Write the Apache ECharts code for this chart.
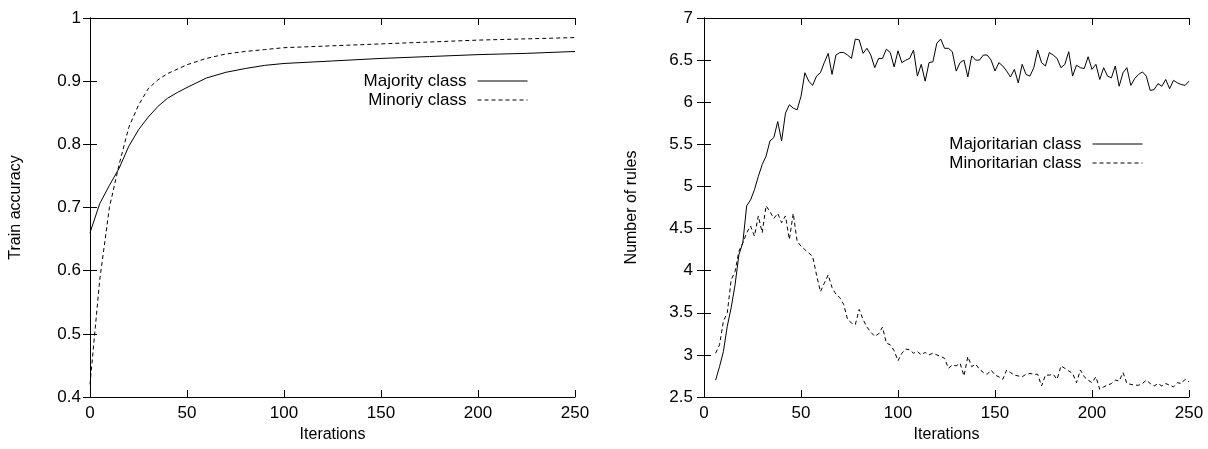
<!DOCTYPE html>
<html><head><meta charset="utf-8">
<script src="https://cdn.jsdelivr.net/npm/echarts@6/dist/echarts.min.js"></script>
<style>html,body{margin:0;padding:0;background:#fff}#c{width:1208px;height:449px}</style>
</head><body><div id="c"></div>
<script>
// ---- Left chart: train accuracy ----
const accIterations = [0,5,10,15,20,25,30,35,40,45,50,60,70,80,90,100,125,150,175,200,225,250];
const accMajority = [0.66,0.706,0.735,0.762,0.797,0.823,0.843,0.860,0.873,0.882,0.890,0.905,0.914,0.920,0.925,0.928,0.932,0.936,0.939,0.942,0.944,0.947];
const accMinority = [0.42,0.585,0.700,0.768,0.827,0.862,0.888,0.902,0.912,0.919,0.926,0.936,0.943,0.947,0.950,0.953,0.956,0.959,0.962,0.965,0.967,0.969];

// ---- Right chart: number of rules ----
const rulesIterations = [6,8,10,12,14,16,18,20,22,24,26,28,30,32,34,36,38,40,42,44,46,48,
 50,52,54,56,58,60,62,64,66,68,70,72,74,76,78,80,82,84,86,88,90,92,94,96,98,
 100,102,104,106,108,110,112,114,116,118,120,122,124,126,128,130,132,134,136,138,140,142,144,146,148,
 150,152,154,156,158,160,162,164,166,168,170,172,174,176,178,180,182,184,186,188,190,192,194,196,198,
 200,202,204,206,208,210,212,214,216,218,220,222,224,226,228,230,232,234,236,238,240,242,244,246,248,250];
const rulesMajoritarian = [2.70,2.86,3.04,3.34,3.56,3.83,4.19,4.33,4.77,4.84,4.96,5.12,5.26,5.36,5.54,5.58,5.77,5.54,5.87,5.97,5.93,5.91,
 6.07,6.35,6.25,6.20,6.31,6.35,6.47,6.58,6.33,6.56,6.59,6.59,6.56,6.52,6.75,6.74,6.58,6.64,6.56,6.41,6.52,6.52,6.63,6.59,6.42,
 6.61,6.47,6.50,6.52,6.62,6.31,6.45,6.25,6.47,6.48,6.70,6.75,6.64,6.64,6.60,6.37,6.47,6.50,6.30,6.55,6.50,6.50,6.56,6.56,6.50,
 6.37,6.47,6.43,6.37,6.30,6.39,6.23,6.45,6.33,6.31,6.41,6.62,6.47,6.43,6.59,6.56,6.52,6.41,6.45,6.60,6.31,6.44,6.41,6.40,6.54,
 6.39,6.45,6.27,6.41,6.31,6.29,6.43,6.19,6.35,6.41,6.20,6.28,6.33,6.36,6.31,6.14,6.15,6.22,6.19,6.27,6.16,6.26,6.23,6.21,6.20,6.25];
const rulesMinoritarian = [3.02,3.12,3.40,3.50,3.89,3.99,4.23,4.33,4.45,4.53,4.41,4.65,4.45,4.77,4.70,4.62,4.68,4.57,4.65,4.37,4.68,4.35,
 4.29,4.25,4.21,4.17,3.95,3.75,3.85,3.95,3.80,3.72,3.68,3.60,3.42,3.38,3.36,3.54,3.42,3.33,3.27,3.22,3.25,3.33,3.14,3.12,3.05,
 2.93,3.02,3.07,3.06,3.02,3.04,3.00,3.03,3.00,3.02,3.00,2.98,2.96,2.84,2.88,2.87,2.90,2.75,2.98,2.86,2.89,2.83,2.79,2.77,2.82,
 2.76,2.74,2.71,2.82,2.79,2.76,2.75,2.74,2.77,2.78,2.77,2.77,2.63,2.76,2.76,2.77,2.71,2.87,2.84,2.81,2.78,2.67,2.82,2.74,2.70,
 2.67,2.74,2.59,2.62,2.64,2.66,2.70,2.69,2.79,2.66,2.65,2.64,2.64,2.66,2.70,2.66,2.63,2.66,2.63,2.66,2.64,2.62,2.67,2.66,2.71,2.68];

const zip = (xs, ys) => xs.map((x, i) => [x, ys[i]]);
const FONT = '"Liberation Sans", Arial, Helvetica, sans-serif';
const BLACK = '#000';
const LABEL = { color: BLACK, fontSize: 17, fontFamily: FONT };

function axisBase(extra) {
  return Object.assign({
    type: 'value',
    axisLine: { show: true, lineStyle: { color: BLACK, width: 1 } },
    axisTick: { show: true, inside: true, length: 7, lineStyle: { color: BLACK, width: 1 } },
    splitLine: { show: false },
    axisLabel: LABEL,
    nameTextStyle: { color: BLACK, fontSize: 16, fontFamily: FONT }
  }, extra);
}
function mirror(extra) {
  return axisBase(Object.assign({ axisLabel: { show: false } }, extra));
}
const legendCommon = {
  orient: 'vertical', align: 'right', itemWidth: 50, itemHeight: 10, itemGap: 1, padding: 0,
  selectedMode: false,
  itemStyle: { opacity: 0, borderWidth: 0 },
  lineStyle: { width: 1 },
  textStyle: { color: BLACK, fontSize: 17, fontFamily: FONT, lineHeight: 18, padding: [0, 6, 0, 0] }
};

const chart = echarts.init(document.getElementById('c'), null, { renderer: 'canvas' });
chart.setOption({
  animation: false,
  backgroundColor: '#fff',
  grid: [
    { left: 90, top: 18, width: 485, height: 379 },
    { left: 704, top: 18, width: 485, height: 379 }
  ],
  xAxis: [
    axisBase({ gridIndex: 0, min: 0, max: 250, interval: 50, position: 'bottom',
      name: 'Iterations', nameLocation: 'middle', nameGap: 25, axisLabel: Object.assign({ margin: 8 }, LABEL) }),
    mirror({ gridIndex: 0, min: 0, max: 250, interval: 50, position: 'top' }),
    axisBase({ gridIndex: 1, min: 0, max: 250, interval: 50, position: 'bottom',
      name: 'Iterations', nameLocation: 'middle', nameGap: 25, axisLabel: Object.assign({ margin: 8 }, LABEL) }),
    mirror({ gridIndex: 1, min: 0, max: 250, interval: 50, position: 'top' })
  ],
  yAxis: [
    axisBase({ gridIndex: 0, min: 0.4, max: 1, interval: 0.1, position: 'left',
      name: 'Train accuracy', nameLocation: 'middle', nameGap: 66, axisLabel: Object.assign({ margin: 9 }, LABEL) }),
    mirror({ gridIndex: 0, min: 0.4, max: 1, interval: 0.1, position: 'right' }),
    axisBase({ gridIndex: 1, min: 2.5, max: 7, interval: 0.5, position: 'left',
      name: 'Number of rules', nameLocation: 'middle', nameGap: 64, axisLabel: Object.assign({ margin: 11 }, LABEL) }),
    mirror({ gridIndex: 1, min: 2.5, max: 7, interval: 0.5, position: 'right' })
  ],
  legend: [
    Object.assign({ data: ['Majority class', 'Minoriy class'], right: 680, top: 72 }, legendCommon),
    Object.assign({ data: ['Majoritarian class', 'Minoritarian class'], right: 65, top: 135 }, legendCommon)
  ],
  series: [
    { type: 'line', name: 'Majority class', xAxisIndex: 0, yAxisIndex: 0, data: zip(accIterations, accMajority),
      symbol: 'none', showSymbol: false, itemStyle: { color: BLACK }, lineStyle: { color: BLACK, width: 1 } },
    { type: 'line', name: 'Minoriy class', xAxisIndex: 0, yAxisIndex: 0, data: zip(accIterations, accMinority),
      symbol: 'none', showSymbol: false, itemStyle: { color: BLACK }, lineStyle: { color: BLACK, width: 1, type: [4, 3] } },
    { type: 'line', name: 'Majoritarian class', xAxisIndex: 2, yAxisIndex: 2, data: zip(rulesIterations, rulesMajoritarian),
      symbol: 'none', showSymbol: false, itemStyle: { color: BLACK }, lineStyle: { color: BLACK, width: 1 } },
    { type: 'line', name: 'Minoritarian class', xAxisIndex: 2, yAxisIndex: 2, data: zip(rulesIterations, rulesMinoritarian),
      symbol: 'none', showSymbol: false, itemStyle: { color: BLACK }, lineStyle: { color: BLACK, width: 1, type: [4, 3] } }
  ]
});
</script></body></html>
